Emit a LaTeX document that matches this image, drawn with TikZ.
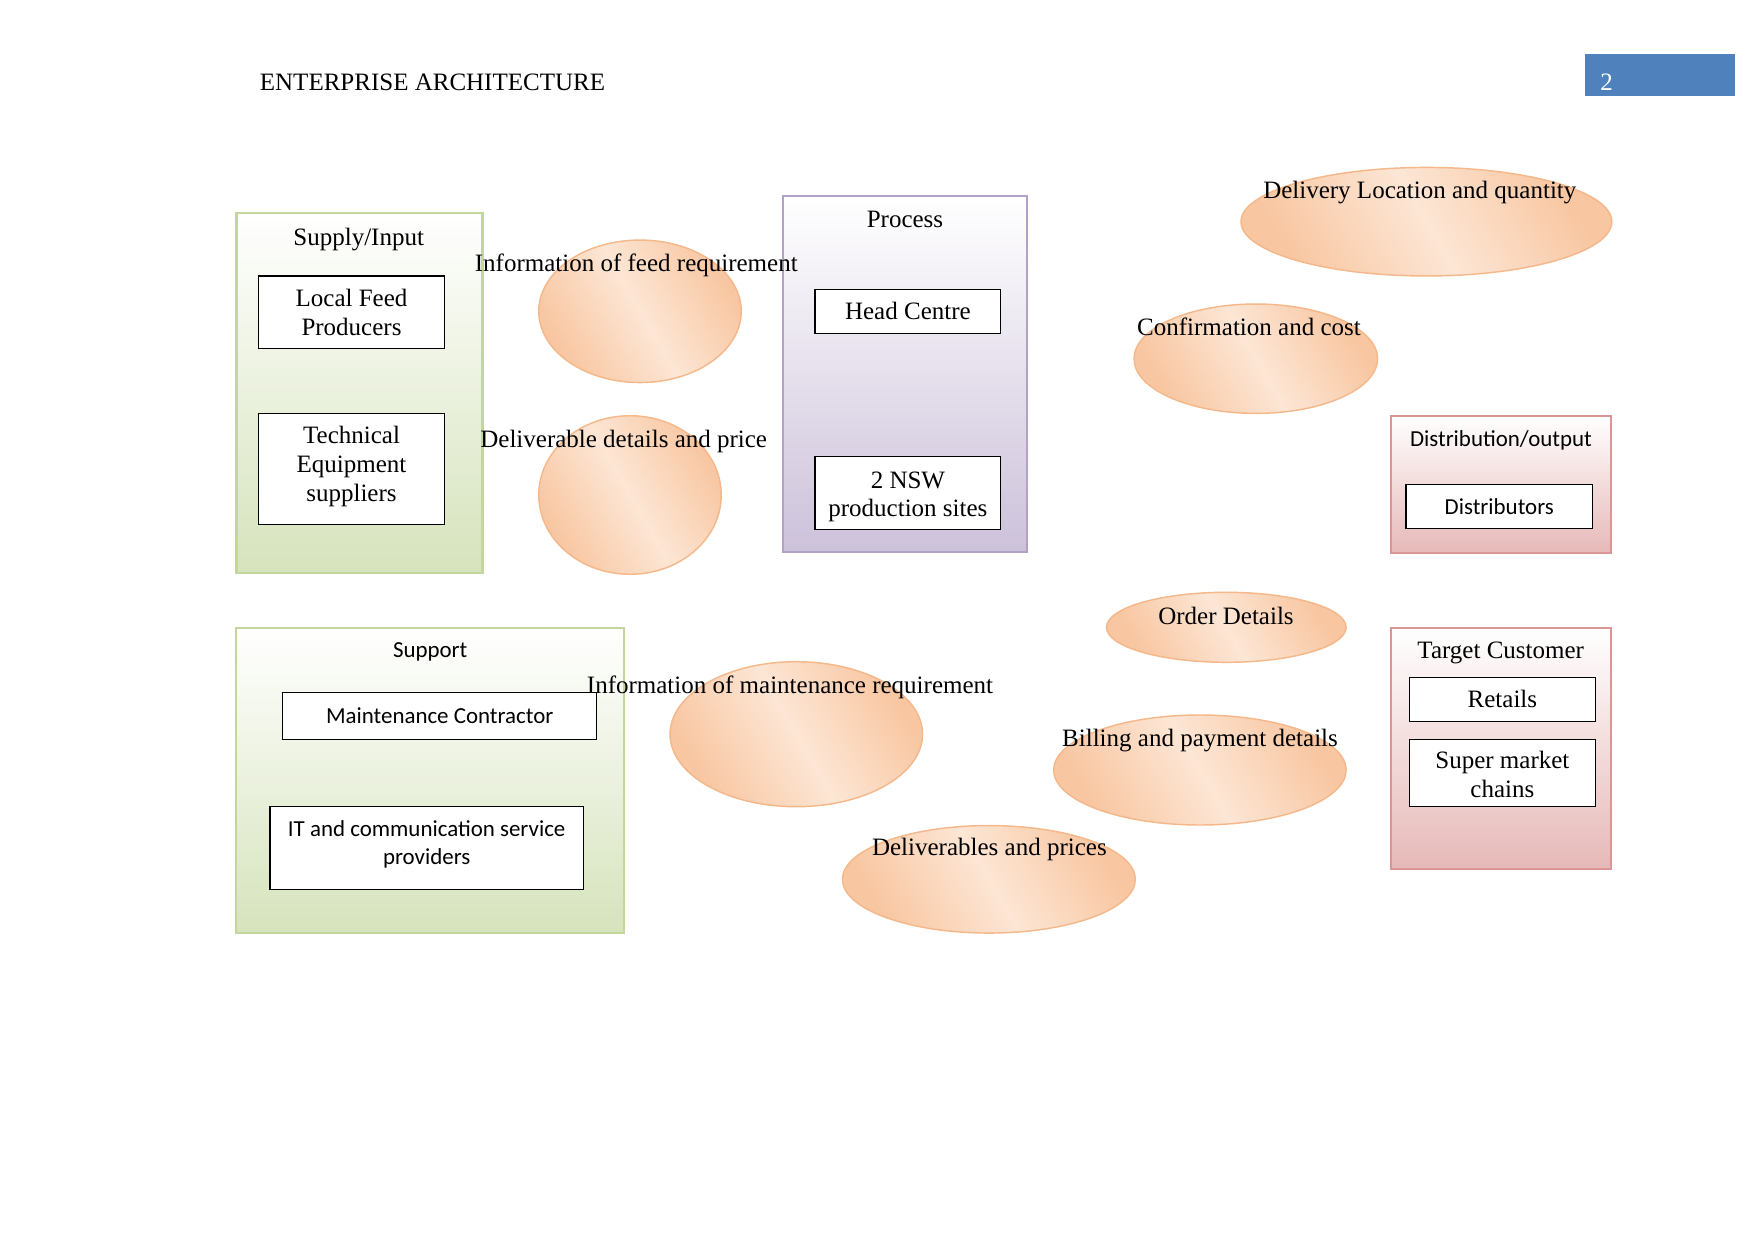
\documentclass[tikz,border=0pt]{standalone}
\usepackage{fontspec}
\setmainfont{Liberation Serif}
\newfontfamily\calibfont{Carlito}
\usetikzlibrary{shapes.geometric}
\definecolor{grnfill}{HTML}{D6E3BC}
\definecolor{grnline}{HTML}{C3D69B}
\definecolor{purfill}{HTML}{CCC1DA}
\definecolor{purline}{HTML}{B3A2C7}
\definecolor{pnkfill}{HTML}{E6B9B8}
\definecolor{pnkline}{HTML}{D99694}
\definecolor{orgfill}{HTML}{F8C6A1}
\definecolor{orglight}{HTML}{FCE6D5}
\definecolor{orgline}{HTML}{F5B88A}
\definecolor{pagblue}{HTML}{4F81BD}
% extra space above the lines (moves them down) or below them (moves them up)
\newcommand\padtop[2]{\raisebox{0pt}[\dimexpr\height+#1\relax][\depth]{\begin{tabular}{@{}c@{}}#2\end{tabular}}}
\newcommand\padbot[2]{\raisebox{0pt}[\height][\dimexpr\depth+#1\relax]{\begin{tabular}{@{}c@{}}#2\end{tabular}}}
\begin{document}
\begin{tikzpicture}[x=0.48pt,y=-0.48pt,
  serif/.style={font=\fontsize{12}{13.8}\selectfont},
  sans/.style={font=\calibfont\fontsize{11}{13.4}\selectfont},
  lbl/.style={serif, inner sep=0pt, align=center},
  inbox/.style={serif, draw=black, line width=0.6pt, fill=white, inner sep=0pt, align=center},
  grnbox/.style={draw=grnline, line width=1pt, top color=white, bottom color=grnfill, inner sep=0pt},
  purbox/.style={draw=purline, line width=1pt, top color=white, bottom color=purfill, inner sep=0pt},
  pnkbox/.style={draw=pnkline, line width=1pt, top color=white, bottom color=pnkfill, inner sep=0pt},
  bubble/.style={ellipse, draw=orgline, line width=0.7pt, left color=orgfill, right color=orgfill, middle color=orglight, shading angle=120, inner sep=0pt},
]
\useasboundingbox (0,0) rectangle (1754,1241);

% header
\node[serif, inner sep=0pt, anchor=west] (title) at (259.5,82) {ENTERPRISE ARCHITECTURE};
\node[fill=pagblue, minimum width=72pt, minimum height=20.2pt, inner sep=0pt] (pagebox) at (1660,75) {};
\node[serif, text=white, inner sep=0pt] (pagenum) at (1606.5,82) {2};

% Supply / Input
\node[grnbox, minimum width=118.1pt, minimum height=172.8pt] (supply) at (359.5,393.3) {};
\node[lbl] (supplyT) at (358.7,239.5) {Supply/Input};
\node[inbox, minimum width=89.4pt, minimum height=34.7pt] (localfeed) at (351.5,312.2) {Local Feed\\Producers};
\node[inbox, minimum width=89.4pt, minimum height=53.3pt] (techeq) at (351.5,468.8) {\padbot{2.2pt}{Technical\\Equipment\\suppliers}};

% Process
\node[purbox, minimum width=117.1pt, minimum height=171.2pt] (process) at (905.3,374) {};
\node[lbl] (processT) at (905,219.3) {Process};
\node[inbox, minimum width=89.1pt, minimum height=21.1pt] (head) at (907.9,311.3) {Head Centre};
\node[inbox, minimum width=89.1pt, minimum height=35pt] (nsw) at (907.9,492.8) {\padtop{3.8pt}{2 NSW\\production sites}};

% Distribution / output
\node[pnkbox, minimum width=105.8pt, minimum height=65.6pt] (distrib) at (1501.2,484.3) {};
\node[lbl, sans] (distribT) at (1501,440.8) {Distribution/output};
\node[inbox, sans, minimum width=89.5pt, minimum height=21.1pt] (distributors) at (1499.3,506.3) {Distributors};

% Target Customer
\node[pnkbox, minimum width=105.6pt, minimum height=115.7pt] (target) at (1501,748.2) {};
\node[lbl] (targetT) at (1500.7,653.2) {Target Customer};
\node[inbox, minimum width=89.5pt, minimum height=21.1pt] (retails) at (1502.4,699.3) {Retails};
\node[inbox, minimum width=89.5pt, minimum height=32.2pt] (supermkt) at (1502.4,772.8) {\padtop{4.5pt}{Super market\\chains}};

% Support
\node[grnbox, minimum width=186.1pt, minimum height=146.7pt] (support) at (430.2,780.5) {};
\node[lbl, sans] (supportT) at (430.2,651.5) {Support};
\node[inbox, sans, minimum width=150.6pt, minimum height=22.6pt] (maint) at (439.7,715.8) {Maintenance Contractor};
\node[inbox, sans, minimum width=150.4pt, minimum height=39.8pt] (itcomm) at (426.7,847.8) {\padbot{3.2pt}{IT and communication service\\providers}};

% bubbles
\node[bubble, minimum width=97.2pt, minimum height=68.4pt] (feedE) at (640,311.3) {};
\node[bubble, minimum width=87.6pt, minimum height=76.1pt] (delivE) at (630,495) {};
\node[bubble, minimum width=178pt, minimum height=52.1pt] (locE) at (1426.4,221.7) {};
\node[bubble, minimum width=116.9pt, minimum height=52.5pt] (confE) at (1255.8,358.7) {};
\node[bubble, minimum width=115pt, minimum height=33.6pt] (orderE) at (1226.3,627.3) {};
\node[bubble, minimum width=140.4pt, minimum height=52.8pt] (billE) at (1199.9,770) {};
\node[bubble, minimum width=121.2pt, minimum height=69.6pt] (maintE) at (796.3,734.2) {};
\node[bubble, minimum width=140.6pt, minimum height=51.6pt] (pricesE) at (988.9,879.3) {};

% bubble labels
\node[lbl] (feedT) at (636.3,265.8) {Information of feed requirement};
\node[lbl] (delivT) at (623.7,441.8) {Deliverable details and price};
\node[lbl] (locT) at (1419.8,192.5) {Delivery Location and quantity};
\node[lbl] (confT) at (1249,326.7) {Confirmation and cost};
\node[lbl] (orderT) at (1226,615.7) {Order Details};
\node[lbl] (billT) at (1200,740.8) {Billing and payment details};
\node[lbl] (maintT) at (790,687) {Information of maintenance requirement};
\node[lbl] (pricesT) at (989.4,849.3) {Deliverables and prices};
\end{tikzpicture}
\end{document}
